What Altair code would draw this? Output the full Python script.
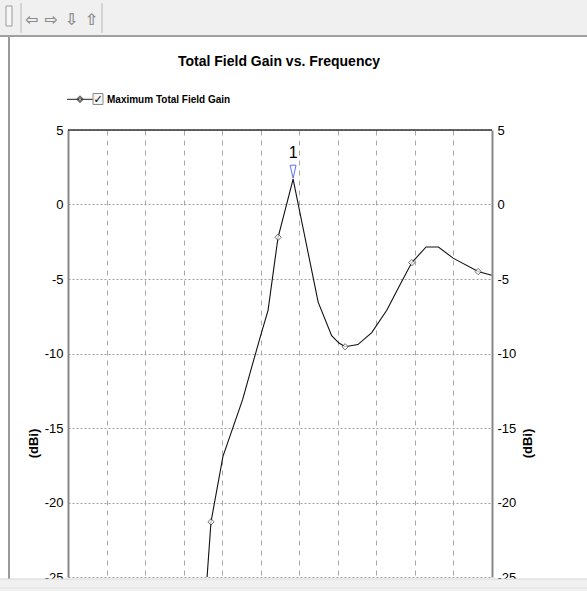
import altair as alt
import pandas as pd

# ---- data (x in grid-division units) ----
freq = [3.60, 3.71, 4.02, 4.53, 4.80, 5.02, 5.19, 5.37, 5.45, 5.84, 6.49, 6.84,
        7.03, 7.19, 7.52, 7.88, 8.27, 8.61, 8.92, 9.29, 9.61, 9.99, 10.64, 10.99]
gain = [-25.3, -21.3, -16.9, -13.1, -10.6, -8.6, -7.1, -3.7, -2.2, 1.7, -6.55, -8.8,
        -9.3, -9.55, -9.4, -8.6, -7.1, -5.4, -3.9, -2.85, -2.85, -3.6, -4.5, -4.75]
marker_freq = [3.71, 5.45, 7.19, 8.92, 10.64]
marker_gain = [-21.3, -2.2, -9.55, -3.9, -4.5]
peak_freq = [5.84]
peak_gain = [2.2]
peak_label_gain = [3.1]
peak_label = ["1"]
y_ticks = [-25, -20, -15, -10, -5, 0, 5]
x_grid = [1, 2, 3, 4, 5, 6, 7, 8, 9, 10]

W, H = 424, 447
NARROW = "'Liberation Sans Narrow', 'Liberation Sans', Arial, sans-serif"
SANS = "'Liberation Sans', Arial, sans-serif"

curve = pd.DataFrame({"freq": freq, "gain": gain})
marks = pd.DataFrame({"freq": marker_freq, "gain": marker_gain})
peak = pd.DataFrame({"freq": peak_freq, "gain": peak_gain,
                     "lg": peak_label_gain, "label": peak_label})
one = pd.DataFrame({"k": [0]})

xs = alt.Scale(domain=[0, 11], nice=False, zero=False)
ys = alt.Scale(domain=[-25, 5], nice=False, zero=False)

line = alt.Chart(curve).mark_line(color="#111", strokeWidth=1.1, clip=True).encode(
    x=alt.X("freq:Q", scale=xs, axis=alt.Axis(
        values=x_grid, labels=False, ticks=False, domain=False, title=None,
        grid=True, gridDash=[5, 5], gridColor="#a8a8a8", gridWidth=1)),
    y=alt.Y("gain:Q", scale=ys, axis=alt.Axis(
        values=y_ticks, ticks=False, labelPadding=5, labelFont=SANS,
        labelFontSize=13, labelColor="#000", labelFlush=False,
        labelExpr="datum.value + ''",
        domain=True, domainColor="#888", domainWidth=2,
        grid=True, gridDash=[2, 2], gridColor="#a0a0a0", gridWidth=1,
        title="(dBi)", titleFont=SANS, titleFontSize=13, titleFontWeight="bold",
        titleColor="#000", titleAngle=270, titleX=-35, titleY=313,
        titleAlign="center", titleBaseline="middle")),
)

right_axis = alt.Chart(curve).mark_line(opacity=0).encode(
    x=alt.X("freq:Q", scale=xs, axis=None),
    y=alt.Y("gain:Q", scale=ys, axis=alt.Axis(
        orient="right", values=y_ticks, ticks=False, labelPadding=5,
        labelFont=SANS, labelFontSize=13, labelColor="#000", labelFlush=False,
        labelExpr="datum.value + ''",
        domain=True, domainColor="#888", domainWidth=2, grid=False,
        title="(dBi)", titleFont=SANS, titleFontSize=13, titleFontWeight="bold",
        titleColor="#000", titleAngle=270, titleX=35, titleY=313,
        titleAlign="center", titleBaseline="middle")),
)

pts = alt.Chart(marks).mark_point(shape="diamond", size=40, filled=True,
                                  fill="white", stroke="#333", strokeWidth=1).encode(
    x=alt.X("freq:Q", scale=xs, axis=None),
    y=alt.Y("gain:Q", scale=ys, axis=None),
)

tri = alt.Chart(peak).mark_point(shape="M-0.45,-1L0.45,-1L0,1Z", size=170,
                                 filled=False, stroke="#2233ee", strokeWidth=1).encode(
    x=alt.X("freq:Q", scale=xs, axis=None),
    y=alt.Y("gain:Q", scale=ys, axis=None),
)
tri_lbl = alt.Chart(peak).mark_text(font=SANS, fontSize=16, color="#000",
                                    baseline="alphabetic").encode(
    x=alt.X("freq:Q", scale=xs, axis=None),
    y=alt.Y("lg:Q", scale=ys, axis=None),
    text="label:N",
)


def rect(x1, x2, y1, y2, **kw):
    return alt.Chart(one).mark_rect(**kw).encode(
        x=alt.value(x1), x2=alt.value(x2), y=alt.value(y1), y2=alt.value(y2))


def hrule(x1, x2, y, **kw):
    return alt.Chart(one).mark_rule(**kw).encode(
        x=alt.value(x1), x2=alt.value(x2), y=alt.value(y))


def vrule(x, y1, y2, **kw):
    return alt.Chart(one).mark_rule(**kw).encode(
        x=alt.value(x), y=alt.value(y1), y2=alt.value(y2))


def text(x, y, t, **kw):
    return alt.Chart(one).mark_text(text=t, **kw).encode(
        x=alt.value(x), y=alt.value(y))


top_frame = hrule(0, W, 0, color="#333", strokeWidth=1.5)

title = text(W / 2 - 1, -64, "Total Field Gain vs. Frequency", font=NARROW,
             fontSize=14, fontWeight="bold", color="#000", baseline="alphabetic",
             align="center")

leg_line = hrule(-1, 25, -30.7, color="#222", strokeWidth=1)
leg_pt = alt.Chart(one).mark_point(shape="diamond", size=26, filled=True,
                                   fill="white", stroke="#333").encode(
    x=alt.value(12), y=alt.value(-30.7))
leg_box = rect(25, 35, -36.5, -25.5, fill="#f4f4f4", stroke="#8a8a8a", strokeWidth=1)
leg_chk = text(30, -30.5, "✓", font="DejaVu Sans", fontSize=11, fontWeight="bold",
               color="#000", baseline="middle", align="center")
leg_txt = text(39, -30.5, "Maximum Total Field Gain", font=NARROW, fontSize=10,
               fontWeight="bold", color="#000", baseline="middle", align="left")

# window chrome around the chart
tb = rect(-68, 519, -130, -94, fill="#f0f0f0")
tb_line = hrule(-68, 519, -94, color="#a0a0a0", strokeWidth=2)
sep1 = vrule(-47, -127, -97, color="#b8b8b8", strokeWidth=1)
sep2 = vrule(34, -127, -97, color="#b8b8b8", strokeWidth=1)
icon = rect(-62, -56, -124, -104, fill="#f8f8f8", stroke="#999", strokeWidth=1)
arrows = [text(x, -110, a, font="DejaVu Sans", fontSize=16, fontWeight="bold",
               color="#8c8c8c", baseline="middle", align="center")
          for x, a in [(-36, "⇦"), (-17, "⇨"), (3.5, "⇩"), (23.5, "⇧")]]
left_border = vrule(-59, -93, 461, color="#9a9a9a", strokeWidth=2)
bottom_band = rect(-68, 519, 449, 461, fill="#f0f0f0")
bottom_line = hrule(-68, 519, 449, color="#d6d6d6", strokeWidth=1)
bottom_line2 = hrule(-68, 519, 458, color="#e2e2e2", strokeWidth=1)

layers = [line, right_axis, pts, tri, tri_lbl, top_frame, title,
          leg_line, leg_pt, leg_box, leg_chk, leg_txt,
          tb, tb_line, sep1, sep2, icon] + arrows + [
          left_border, bottom_band, bottom_line, bottom_line2]

chart = alt.layer(*layers).resolve_axis(x="independent", y="independent").properties(
    width=W, height=H,
    autosize=alt.AutoSizeParams(type="none"),
    padding={"left": 68, "top": 130, "right": 95, "bottom": 14},
    background="white",
).configure_view(stroke=None)

chart.save("out.html", embed_options={"renderer": "svg", "actions": False})
